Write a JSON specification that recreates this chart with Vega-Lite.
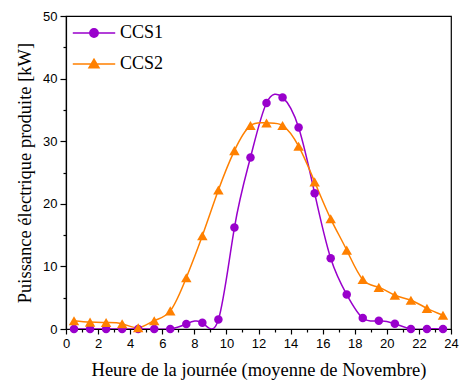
{
  "$schema": "https://vega.github.io/schema/vega-lite/v6.json",
  "width": 385,
  "height": 313,
  "autosize": "none",
  "padding": {"left": 66, "top": 16, "right": 9, "bottom": 56},
  "background": "white",
  "config": {
    "view": {"stroke": "black", "strokeWidth": 1.2},
    "axis": {
      "grid": false,
      "domainColor": "black",
      "domainWidth": 1.2,
      "tickColor": "black",
      "tickWidth": 1.2,
      "labelFont": "Liberation Sans",
      "labelFontSize": 13,
      "labelColor": "black",
      "titleFont": "Liberation Serif",
      "titleFontSize": 18.5,
      "titleFontWeight": "normal",
      "titleColor": "black"
    }
  },
  "data": {
    "values": [
      {"h": 0.5, "s": "CCS1", "p": 0}, {"h": 1.5, "s": "CCS1", "p": 0}, {"h": 2.5, "s": "CCS1", "p": 0},
      {"h": 3.5, "s": "CCS1", "p": 0}, {"h": 4.5, "s": "CCS1", "p": 0}, {"h": 5.5, "s": "CCS1", "p": 0},
      {"h": 6.5, "s": "CCS1", "p": 0}, {"h": 7.5, "s": "CCS1", "p": 0.8}, {"h": 8.5, "s": "CCS1", "p": 1.0},
      {"h": 9.5, "s": "CCS1", "p": 1.5}, {"h": 10.5, "s": "CCS1", "p": 16.2}, {"h": 11.5, "s": "CCS1", "p": 27.4},
      {"h": 12.5, "s": "CCS1", "p": 36.1}, {"h": 13.5, "s": "CCS1", "p": 37.0}, {"h": 14.5, "s": "CCS1", "p": 32.2},
      {"h": 15.5, "s": "CCS1", "p": 21.7}, {"h": 16.5, "s": "CCS1", "p": 11.3}, {"h": 17.5, "s": "CCS1", "p": 5.5},
      {"h": 18.5, "s": "CCS1", "p": 1.75}, {"h": 19.5, "s": "CCS1", "p": 1.3}, {"h": 20.5, "s": "CCS1", "p": 0.85},
      {"h": 21.5, "s": "CCS1", "p": 0}, {"h": 22.5, "s": "CCS1", "p": 0}, {"h": 23.5, "s": "CCS1", "p": 0},
      {"h": 0.5, "s": "CCS2", "p": 1.33}, {"h": 1.5, "s": "CCS2", "p": 1.1}, {"h": 2.5, "s": "CCS2", "p": 1.05},
      {"h": 3.5, "s": "CCS2", "p": 0.85}, {"h": 4.5, "s": "CCS2", "p": 0.2}, {"h": 5.5, "s": "CCS2", "p": 1.33},
      {"h": 6.5, "s": "CCS2", "p": 2.9}, {"h": 7.5, "s": "CCS2", "p": 8.2}, {"h": 8.5, "s": "CCS2", "p": 14.9},
      {"h": 9.5, "s": "CCS2", "p": 22.2}, {"h": 10.5, "s": "CCS2", "p": 28.5}, {"h": 11.5, "s": "CCS2", "p": 32.5},
      {"h": 12.5, "s": "CCS2", "p": 32.9}, {"h": 13.5, "s": "CCS2", "p": 32.5}, {"h": 14.5, "s": "CCS2", "p": 29.2},
      {"h": 15.5, "s": "CCS2", "p": 23.5}, {"h": 16.5, "s": "CCS2", "p": 17.6}, {"h": 17.5, "s": "CCS2", "p": 12.6},
      {"h": 18.5, "s": "CCS2", "p": 7.9}, {"h": 19.5, "s": "CCS2", "p": 6.65}, {"h": 20.5, "s": "CCS2", "p": 5.4},
      {"h": 21.5, "s": "CCS2", "p": 4.6}, {"h": 22.5, "s": "CCS2", "p": 3.3}, {"h": 23.5, "s": "CCS2", "p": 2.2}
    ]
  },
  "encoding": {
    "x": {
      "field": "h", "type": "quantitative",
      "scale": {"domain": [0, 24], "nice": false},
      "axis": {
        "title": "Heure de la journée (moyenne de Novembre)",
        "values": [0,1,2,3,4,5,6,7,8,9,10,11,12,13,14,15,16,17,18,19,20,21,22,23,24],
        "labelExpr": "datum.value % 2 === 0 ? datum.label : ''",
        "tickSize": {"condition": {"test": "datum.value % 2 === 0", "value": 5}, "value": 3},
        "labelPadding": 3,
        "titlePadding": 10,
        "labelFlush": false
      }
    },
    "y": {
      "field": "p", "type": "quantitative",
      "scale": {"domain": [0, 50], "nice": false},
      "axis": {
        "title": "Puissance électrique produite [kW]",
        "values": [0,5,10,15,20,25,30,35,40,45,50],
        "labelExpr": "datum.value % 10 === 0 ? datum.label : ''",
        "tickSize": {"condition": {"test": "datum.value % 10 === 0", "value": 6}, "value": 3},
        "labelPadding": 3,
        "titlePadding": 8,
        "labelFlush": false
      }
    }
  },
  "layer": [
    {
      "mark": {"type": "line", "interpolate": "natural", "strokeWidth": 1.5, "clip": true},
      "encoding": {
        "color": {"field": "s", "type": "nominal", "scale": {"domain": ["CCS1", "CCS2"], "range": ["#9900cc", "#ff8000"]}, "legend": null}
      }
    },
    {
      "transform": [{"filter": "datum.s === 'CCS1'"}],
      "mark": {"type": "point", "filled": true, "opacity": 1, "shape": "circle", "size": 72, "color": "#9900cc"},
      "encoding": {}
    },
    {
      "transform": [{"filter": "datum.s === 'CCS2'"}],
      "mark": {"type": "point", "filled": true, "opacity": 1, "shape": "triangle-up", "size": 110, "color": "#ff8000"},
      "encoding": {}
    },
    {
      "transform": [{"filter": "false"}],
      "mark": {"type": "point", "filled": true, "opacity": 1, "size": 1800, "strokeWidth": 1.4},
      "encoding": {
        "color": {
          "field": "s", "type": "nominal",
          "scale": {"domain": ["CCS1", "CCS2"], "range": ["#9900cc", "#ff8000"]},
          "legend": {"title": null, "orient": "none", "legendX": 6, "legendY": -5, "labelFont": "Liberation Serif", "labelFontSize": 18, "labelColor": "black", "labelOffset": 4, "symbolSize": 1800, "symbolStrokeWidth": 1.4, "rowPadding": -14, "encode": {"labels": {"font": {"value": "Liberation Serif"}}}}
        },
        "stroke": {
          "field": "s", "type": "nominal",
          "scale": {"domain": ["CCS1", "CCS2"], "range": ["#9900cc", "#ff8000"]},
          "legend": {"title": null, "orient": "none", "legendX": 6, "legendY": -5, "labelFont": "Liberation Serif", "labelFontSize": 18, "labelColor": "black", "labelOffset": 4, "symbolSize": 1800, "symbolStrokeWidth": 1.4, "rowPadding": -14, "encode": {"labels": {"font": {"value": "Liberation Serif"}}}}
        },
        "shape": {
          "field": "s", "type": "nominal",
          "scale": {"domain": ["CCS1", "CCS2"], "range": ["M-1,0L1,0M0.2,0A0.2,0.2,0,1,1,-0.2,0A0.2,0.2,0,1,1,0.2,0Z", "M-1,0L1,0M0,-0.23L0.24,0.18L-0.24,0.18Z"]},
          "legend": {"title": null, "orient": "none", "legendX": 6, "legendY": -5, "labelFont": "Liberation Serif", "labelFontSize": 18, "labelColor": "black", "labelOffset": 4, "symbolSize": 1800, "symbolStrokeWidth": 1.4, "rowPadding": -14, "encode": {"labels": {"font": {"value": "Liberation Serif"}}}}
        }
      }
    }
  ],
  "resolve": {"scale": {"color": "independent", "stroke": "independent", "shape": "independent"}}
}
